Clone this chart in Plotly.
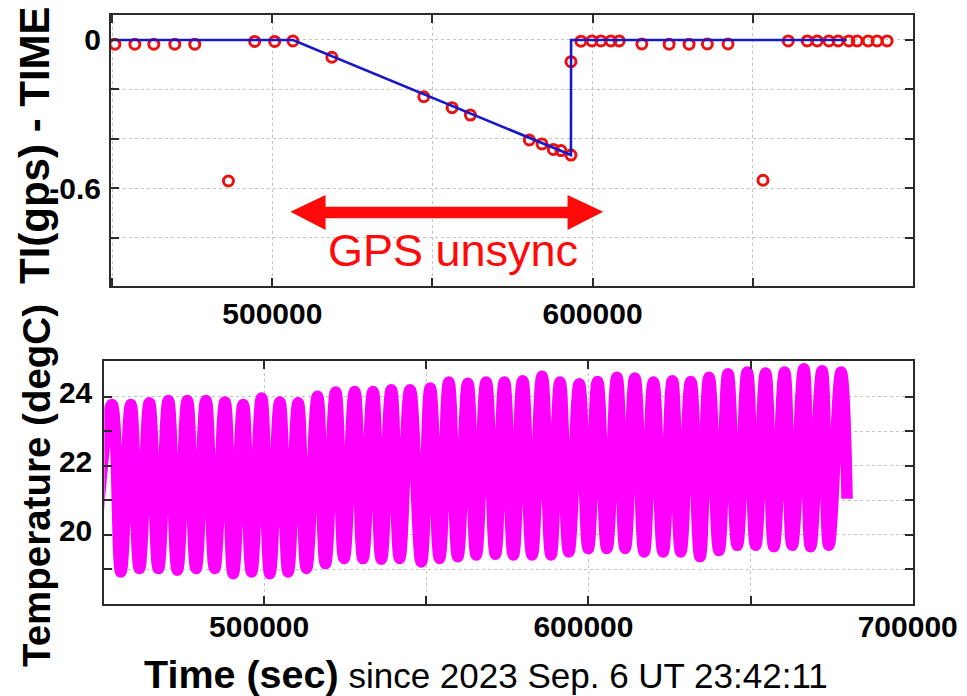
import plotly.graph_objects as go

W, H = 967, 696

# ---------------- upper panel: TI(gps) - TIME ----------------
ti_time = [450813, 457050, 462977, 469527, 475765, 486276, 494479, 500717, 506425,
           518589, 547284, 556142, 561850, 580252, 584213, 587737, 590139, 593258, 593258,
           596377, 599808, 602615, 605734, 608323, 615403, 623918, 630156, 635864, 642320,
           653236, 661128, 667054, 670173, 673822, 676723, 680060, 682649, 686080, 688887,
           692006]
ti_offset = [-0.017, -0.017, -0.017, -0.017, -0.017, -0.571, -0.006, -0.006, -0.004,
             -0.070, -0.230, -0.274, -0.304, -0.405, -0.421, -0.443, -0.448, -0.466, -0.088,
             -0.005, -0.004, -0.004, -0.004, -0.004, -0.016, -0.017, -0.017, -0.016, -0.016,
             -0.568, -0.004, -0.004, -0.004, -0.004, -0.004, -0.004, -0.004, -0.004, -0.004,
             -0.004]

model_time = [449600, 506425, 593258, 593300, 679436]
model_offset = [0.0, 0.0, -0.466, 0.0, 0.0]

# ---------------- lower panel: temperature (orbit maxima / minima) ----------------
temp_time = [447274,
             453030, 455800, 458878, 461525, 464603, 467373, 470451, 473221, 476299, 478977,
             482055, 484733, 487903, 490458, 493536, 496122, 499200, 501754, 504832, 507387,
             510465, 513051, 516437, 518899, 522069, 524624, 527917, 530472, 533550, 536136,
             539214, 541768, 545000, 548448, 551218, 554080, 556943, 559713, 562791, 565377,
             568455, 571317, 574087, 576858, 579720, 582614, 585692, 588462, 591232, 593941,
             597172, 599943, 602805, 605699, 608777, 611331, 614317, 617179, 620042, 623028,
             625890, 628476, 631554, 634416, 637186, 640264, 643035, 645897, 648975, 651561,
             654639, 657193, 660487, 662826, 666427, 668490, 672060, 674122, 677908, 679755]
temp_degc = [18.80,
             23.77, 18.92, 23.77, 19.02, 23.82, 19.02, 23.89, 18.97, 23.89, 19.02,
             23.89, 19.02, 23.84, 18.87, 23.77, 18.92, 23.96, 18.87, 23.84, 18.92,
             23.82, 19.02, 24.01, 19.16, 24.13, 19.31, 24.15, 19.31, 24.15, 19.29,
             24.20, 19.31, 24.20, 19.21, 24.25, 19.31, 24.42, 19.36, 24.39, 19.41,
             24.42, 19.43, 24.42, 19.41, 24.46, 19.41, 24.59, 19.41, 24.42, 19.50,
             24.37, 19.60, 24.44, 19.60, 24.56, 19.60, 24.54, 19.50, 24.42, 19.50,
             24.46, 19.50, 24.44, 19.36, 24.56, 19.54, 24.66, 19.69, 24.71, 19.69,
             24.68, 19.65, 24.71, 19.69, 24.81, 19.65, 24.75, 19.69, 24.71, 21.04]

# tick definitions
top_y_ticks = [0, -0.2, -0.4, -0.6, -0.8]
top_y_text = ["0", "", "", "-0.6", ""]
top_x_ticks = [450000, 500000, 550000, 600000, 650000]
top_x_text = ["", "500000", "", "600000", ""]
bot_y_ticks = [19, 20, 21, 22, 23, 24]
bot_y_text = ["", "20", "", "22", "", "24"]
bot_x_ticks = [450000, 500000, 550000, 600000, 650000, 700000]
bot_x_text = ["", "500000", "", "600000", "", "700000"]

# GPS-unsync arrow extent (data units of the upper panel)
arrow_x = [505614, 516624, 592198, 603332]
arrow_y = [-0.695, -0.628, -0.769, -0.675, -0.722]

FONT = "Liberation Sans, Arial, sans-serif"
FRAME = "#2b2b2b"
GRID = "#c4c4c4"


def px_x(p):
    return p / W


def px_y(p):
    return 1 - p / H


fig = go.Figure()

fig.add_trace(go.Scatter(
    x=ti_time, y=ti_offset, mode="markers", xaxis="x", yaxis="y",
    marker=dict(symbol="circle-open", size=10, color="#ec1010",
                line=dict(width=3, color="#ec1010")),
    showlegend=False, hoverinfo="skip"))
fig.add_trace(go.Scatter(
    x=model_time, y=model_offset, mode="lines", xaxis="x", yaxis="y",
    line=dict(color="#1818c8", width=2.6), showlegend=False, hoverinfo="skip"))

fig.add_trace(go.Scatter(
    x=temp_time, y=temp_degc, mode="lines", xaxis="x2", yaxis="y2",
    line=dict(color="#ff00ff", width=11.5, shape="spline", smoothing=1.3),
    showlegend=False, hoverinfo="skip"))


def axis_common():
    return dict(showline=True, linecolor=FRAME, linewidth=2, mirror="ticks",
                ticks="inside", ticklen=8, tickwidth=2, tickcolor=FRAME,
                showgrid=True, gridcolor=GRID, griddash="dot", gridwidth=1,
                zeroline=False, automargin=False,
                tickfont=dict(family=FONT, size=30, color="black"))


fig.update_layout(
    width=W, height=H, margin=dict(l=0, r=0, t=0, b=0, autoexpand=False),
    paper_bgcolor="white", plot_bgcolor="white",
    xaxis=dict(domain=[px_x(111), px_x(912.7)], range=[449600, 700000], anchor="y",
               tickvals=top_x_ticks, ticktext=[f"<b>{t}</b>" for t in top_x_text],
               ticklabelstandoff=0, **axis_common()),
    yaxis=dict(domain=[px_y(286), px_y(15)], range=[-0.996, 0.101], anchor="x",
               tickvals=top_y_ticks, ticktext=[f"<b>{t}</b>" for t in top_y_text],
               ticklabelstandoff=2, **axis_common()),
    xaxis2=dict(domain=[px_x(104.3), px_x(912.7)], range=[450700, 700000], anchor="y2",
                tickvals=bot_x_ticks, ticktext=[f"<b>{t}</b>" for t in bot_x_text],
                ticklabelstandoff=-5, ticklabelshift=-5, **axis_common()),
    yaxis2=dict(domain=[px_y(604), px_y(360.7)], range=[17.99, 25.04], anchor="x2",
                tickvals=bot_y_ticks, ticktext=[f"<b>{t}</b>" for t in bot_y_text],
                ticklabelstandoff=4, ticklabelshift=-4, **axis_common()),
)

# double-headed arrow marking the unsynchronised interval
xl_tip, xl_base, xr_base, xr_tip = arrow_x
yc, yh_top, yh_bot, ys_top, ys_bot = arrow_y
arrow_path = (f"M {xl_tip},{yc} L {xl_base},{yh_top} L {xl_base},{ys_top} "
              f"L {xr_base},{ys_top} L {xr_base},{yh_top} L {xr_tip},{yc} "
              f"L {xr_base},{yh_bot} L {xr_base},{ys_bot} L {xl_base},{ys_bot} "
              f"L {xl_base},{yh_bot} Z")
fig.add_shape(type="path", path=arrow_path, xref="x", yref="y",
              fillcolor="#ff0a0a", line=dict(width=0))

fig.add_annotation(text="GPS unsync", xref="paper", yref="paper",
                   x=px_x(452.5), y=px_y(250), xanchor="center", yanchor="middle",
                   showarrow=False, font=dict(family=FONT, size=45, color="#ff0a0a"))

fig.add_annotation(text="<b>TI(gps) - TIME</b>", textangle=-90,
                   xref="paper", yref="paper", x=px_x(34), y=px_y(145),
                   xanchor="center", yanchor="middle", showarrow=False,
                   font=dict(family=FONT, size=42, color="black"))
fig.add_annotation(text="<b>Temperature (degC)</b>", textangle=-90,
                   xref="paper", yref="paper", x=px_x(36), y=px_y(486),
                   xanchor="center", yanchor="middle", showarrow=False,
                   font=dict(family=FONT, size=38.5, color="black"))
fig.add_annotation(text="<b>Time (sec)</b><span style='font-size:35px'> since 2023 Sep. 6 UT 23:42:11</span>",
                   xref="paper", yref="paper", x=px_x(142), y=px_y(674),
                   xanchor="left", yanchor="middle", showarrow=False,
                   font=dict(family=FONT, size=39.5, color="black"))

fig.write_html("out.html")
